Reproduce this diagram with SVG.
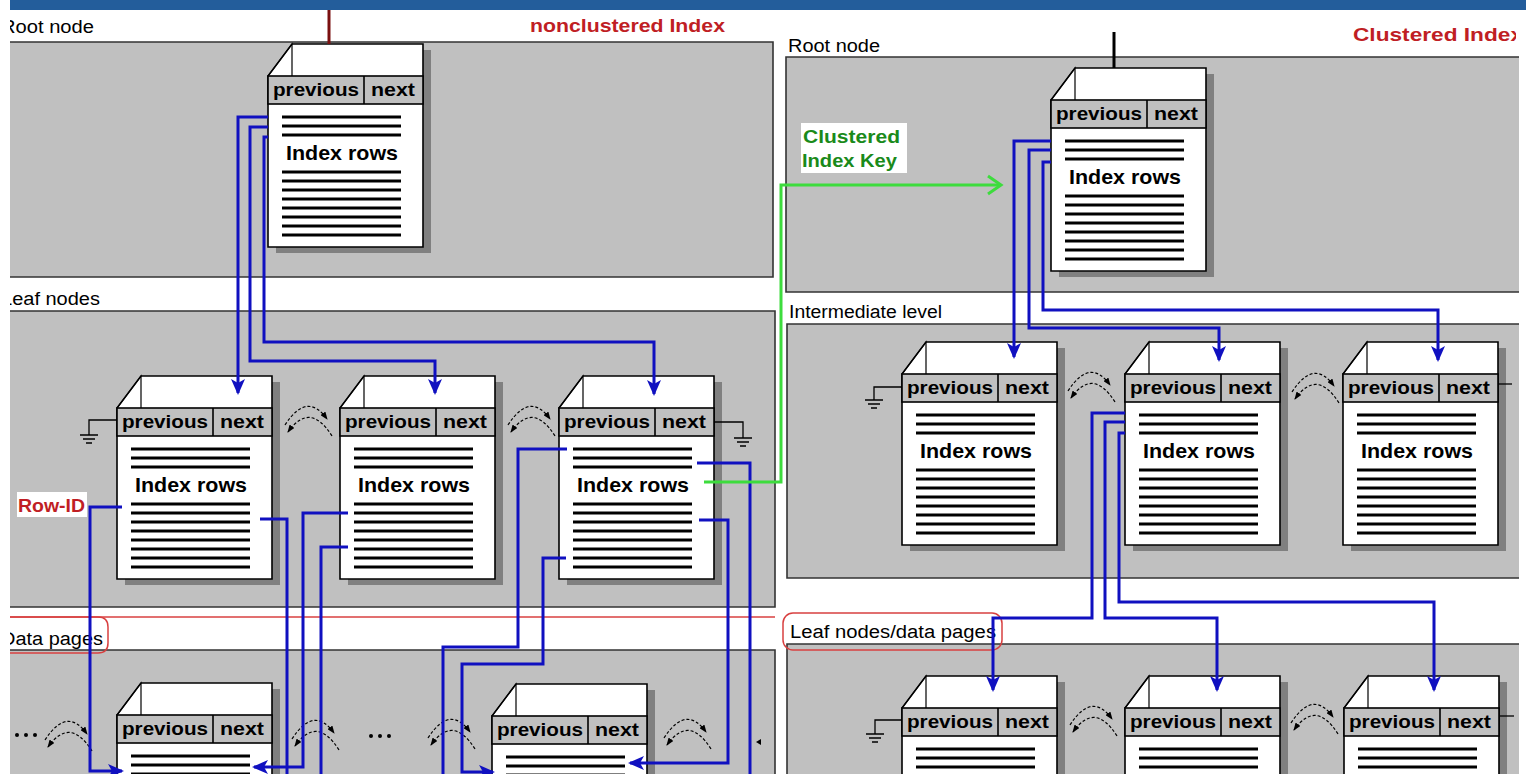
<svg xmlns="http://www.w3.org/2000/svg" xmlns:xlink="http://www.w3.org/1999/xlink" width="1526" height="774" viewBox="0 0 1526 774">
<style>
.lbl{font-family:"Liberation Sans",Arial,sans-serif;font-size:18px;fill:#000}
.hdr{font-family:"Liberation Sans",Arial,sans-serif;font-weight:bold;font-size:19px;fill:#000}
.idx{font-family:"Liberation Sans",Arial,sans-serif;font-weight:bold;font-size:21px;fill:#000;text-anchor:middle}
.red{font-family:"Liberation Sans",Arial,sans-serif;font-weight:bold;font-size:19px;fill:#c01e24}
.grn{font-family:"Liberation Sans",Arial,sans-serif;font-weight:bold;font-size:18px;fill:#1a8a1a}
.panel{fill:#c0c0c0}
.pb{fill:none;stroke:#333;stroke-width:1.6}
.blue{fill:none;stroke:#1010c0;stroke-width:3}
.green{fill:none;stroke:#3ddc3d;stroke-width:3}
.thin{fill:none;stroke:#000;stroke-width:1.3}
.redline{fill:none;stroke:#d84040;stroke-width:1.5}
</style>
<defs>
<clipPath id="clipMain"><rect x="10" y="0" width="1516" height="774"/></clipPath>
<clipPath id="clipRight"><rect x="0" y="0" width="1516" height="774"/></clipPath>
<marker id="ab" markerUnits="userSpaceOnUse" viewBox="0 0 16 14" markerWidth="16" markerHeight="14" refX="14" refY="7" orient="auto"><path d="M0,0 L16,7 L0,14 L4,7 Z" fill="#1010c0"/></marker>
<marker id="ag" markerUnits="userSpaceOnUse" viewBox="-2 -2 18 22" markerWidth="18" markerHeight="22" refX="13" refY="9" orient="auto"><path d="M0,0 L13,9 L0,18" fill="none" stroke="#3ddc3d" stroke-width="3"/></marker>
<marker id="sa" markerUnits="userSpaceOnUse" viewBox="0 0 8 6" markerWidth="8" markerHeight="6" refX="7" refY="3" orient="auto"><path d="M0,0 L8,3 L0,6 Z" fill="#000"/></marker>
<g id="page">
<path d="M155,6 H163 V209 H8 V203 H155 Z" fill="#808080"/>
<path d="M24,0 H155 V203 H0 V32 Z" fill="#fff" stroke="#000" stroke-width="1.6"/>
<path d="M0,32 L24,0 V32" fill="none" stroke="#000" stroke-width="1.2"/>
<rect x="0" y="32" width="155" height="28" fill="#c0c0c0" stroke="#000" stroke-width="1.6"/>
<line x1="96" y1="32" x2="96" y2="60" stroke="#000" stroke-width="1.6"/>
<text x="5" y="52" class="hdr" textLength="86" lengthAdjust="spacingAndGlyphs">previous</text>
<text x="103" y="52" class="hdr" textLength="44" lengthAdjust="spacingAndGlyphs">next</text>
<path d="M14,73 H133 M14,82 H133 M14,91 H133 M14,128 H133 M14,137 H133 M14,146 H133 M14,155 H133 M14,164 H133 M14,173 H133 M14,182 H133 M14,191 H133" stroke="#000" stroke-width="3" fill="none"/>
<text x="74" y="116" class="idx" textLength="112" lengthAdjust="spacingAndGlyphs">Index rows</text>
</g>
<g id="swap">
<path d="M-23,4 Q-1,-30 19,-2" fill="none" stroke="#000" stroke-width="1.2" stroke-dasharray="3 2" marker-end="url(#sa)"/>
<path d="M24,15 Q2,-20 -20,11" fill="none" stroke="#000" stroke-width="1.2" stroke-dasharray="3 2" marker-end="url(#sa)"/>
</g>
<path id="gnd" d="M-9,0 H9 M-6,4 H6 M-3,8 H3" fill="none" stroke="#000" stroke-width="1.5"/>
</defs>

<rect x="0" y="0" width="1526" height="774" fill="#fff"/>
<g clip-path="url(#clipMain)">
<rect x="0" y="0" width="1526" height="10" fill="#235d9b"/>

<g id="panels">
<rect class="panel" x="0" y="42" width="773" height="235"/>
<path class="pb" d="M0,42 H773 V277 H0"/>
<rect class="panel" x="0" y="311" width="775" height="296"/>
<path class="pb" d="M0,311 H775 V607 H0"/>
<rect class="panel" x="0" y="650" width="775" height="130"/>
<path class="pb" d="M0,650 H775 V780"/>
<rect class="panel" x="786" y="57" width="733" height="235"/>
<path class="pb" d="M1519,57 H786 V292 H1519"/>
<rect class="panel" x="787" y="324" width="732" height="254"/>
<path class="pb" d="M1519,324 H787 V578 H1519"/>
<rect class="panel" x="787" y="644" width="732" height="136"/>
<path class="pb" d="M1519,644 H787 V780"/>
</g>

<g id="labels">
<text class="lbl" x="1" y="33" textLength="93" lengthAdjust="spacingAndGlyphs">Root node</text>
<text class="lbl" x="1" y="305" textLength="99" lengthAdjust="spacingAndGlyphs">Leaf nodes</text>
<line class="redline" x1="0" y1="617" x2="775" y2="617"/>
<path class="redline" d="M0,617 H98 Q108,617 108,627 V643 Q108,653 98,653 H0"/>
<text class="lbl" x="1" y="645" textLength="102" lengthAdjust="spacingAndGlyphs">Data pages</text>
<text class="red" x="530" y="32" textLength="195" lengthAdjust="spacingAndGlyphs">nonclustered Index</text>
<text class="lbl" x="788" y="52" textLength="92" lengthAdjust="spacingAndGlyphs">Root node</text>
<text class="red" x="1353" y="41" textLength="170" lengthAdjust="spacingAndGlyphs" clip-path="url(#clipRight)">Clustered Index</text>
<text class="lbl" x="789" y="318" textLength="153" lengthAdjust="spacingAndGlyphs">Intermediate level</text>
<rect x="783" y="613" width="219" height="37" rx="10" fill="none" stroke="#d84040" stroke-width="1.5"/>
<text class="lbl" x="790" y="638" textLength="206" lengthAdjust="spacingAndGlyphs">Leaf nodes/data pages</text>
<rect x="801" y="123" width="106" height="50" fill="#fff"/>
<text class="grn" x="803" y="143" textLength="97" lengthAdjust="spacingAndGlyphs">Clustered</text>
<text class="grn" x="802" y="167" textLength="95" lengthAdjust="spacingAndGlyphs">Index Key</text>
<rect x="17" y="492" width="70" height="25" fill="#fff"/>
<text class="red" x="18" y="512" textLength="67" lengthAdjust="spacingAndGlyphs" style="font-size:18px">Row-ID</text>
</g>

<g id="nc-root" transform="translate(268,44)"><use xlink:href="#page"/></g>
<g id="nc-leaf-1" transform="translate(117,376)"><use xlink:href="#page"/></g>
<g id="nc-leaf-2" transform="translate(340,376)"><use xlink:href="#page"/></g>
<g id="nc-leaf-3" transform="translate(559,376)"><use xlink:href="#page"/></g>
<g id="data-page-1" transform="translate(117,683)"><use xlink:href="#page"/></g>
<g id="data-page-2" transform="translate(492,684)"><use xlink:href="#page"/></g>
<g id="c-root" transform="translate(1051,68)"><use xlink:href="#page"/></g>
<g id="c-int-1" transform="translate(902,342)"><use xlink:href="#page"/></g>
<g id="c-int-2" transform="translate(1125,342)"><use xlink:href="#page"/></g>
<g id="c-int-3" transform="translate(1343,342)"><use xlink:href="#page"/></g>
<g id="c-leaf-1" transform="translate(902,676)"><use xlink:href="#page"/></g>
<g id="c-leaf-2" transform="translate(1125,676)"><use xlink:href="#page"/></g>
<g id="c-leaf-3" transform="translate(1344,676)"><use xlink:href="#page"/></g>

<g id="grounds">
<path class="thin" d="M117,420 H89 V435"/><use xlink:href="#gnd" x="89" y="435"/>
<path class="thin" d="M714,422 H743 V438"/><use xlink:href="#gnd" x="743" y="438"/>
<path class="thin" d="M902,387 H874 V400"/><use xlink:href="#gnd" x="874" y="400"/>
<path class="thin" d="M902,720 H875 V734"/><use xlink:href="#gnd" x="875" y="734"/>
<path class="thin" d="M1498,384 H1512"/>
<path class="thin" d="M1500,716 H1514"/>
</g>

<g id="links">
<use xlink:href="#swap" x="308" y="421"/>
<use xlink:href="#swap" x="531" y="421"/>
<use xlink:href="#swap" x="68" y="736"/>
<use xlink:href="#swap" x="315" y="735"/>
<use xlink:href="#swap" x="451" y="734"/>
<use xlink:href="#swap" x="687" y="734"/>
<use xlink:href="#swap" x="1091" y="387"/>
<use xlink:href="#swap" x="1315" y="388"/>
<use xlink:href="#swap" x="1093" y="721"/>
<use xlink:href="#swap" x="1314" y="719"/>
<g fill="#000">
<circle cx="17" cy="735" r="2"/><circle cx="26" cy="735" r="2"/><circle cx="35" cy="735" r="2"/>
<circle cx="371" cy="736" r="2"/><circle cx="380" cy="736" r="2"/><circle cx="389" cy="736" r="2"/>
<path d="M756,742 L761,739 L761,745 Z"/>
</g>
</g>

<g id="connectors">
<line x1="329" y1="10" x2="329" y2="44" stroke="#7a1010" stroke-width="3"/>
<line x1="1114" y1="32" x2="1114" y2="68" stroke="#000" stroke-width="3"/>
<path class="blue" d="M268,117 H238 V393" marker-end="url(#ab)"/>
<path class="blue" d="M268,127 H250 V361 H435 V393" marker-end="url(#ab)"/>
<path class="blue" d="M268,137 H264 V342 H654 V394" marker-end="url(#ab)"/>
<path class="blue" d="M122,507 H90 V771 H122" marker-end="url(#ab)"/>
<path class="blue" d="M260,519 H287 V780"/>
<path class="blue" d="M348,513 H303 V767 H254" marker-end="url(#ab)"/>
<path class="blue" d="M348,547 H321 V780"/>
<path class="blue" d="M567,449 H518 V647 H443 V780"/>
<path class="blue" d="M566,558 H543 V664 H462 V772 H493" marker-end="url(#ab)"/>
<path class="blue" d="M697,463 H750 V780"/>
<path class="blue" d="M699,520 H728 V763 H630" marker-end="url(#ab)"/>
<path class="green" d="M704,482 H781 V185 H1001" marker-end="url(#ag)"/>
<path class="blue" d="M1051,141 H1014 V357" marker-end="url(#ab)"/>
<path class="blue" d="M1051,150 H1029 V328 H1219 V360" marker-end="url(#ab)"/>
<path class="blue" d="M1051,162 H1043 V310 H1438 V360" marker-end="url(#ab)"/>
<path class="blue" d="M1125,413 H1092 V618 H993 V690" marker-end="url(#ab)"/>
<path class="blue" d="M1125,422 H1105 V618 H1217 V690" marker-end="url(#ab)"/>
<path class="blue" d="M1125,433 H1119 V602 H1434 V690" marker-end="url(#ab)"/>
</g>
</g>
</svg>
